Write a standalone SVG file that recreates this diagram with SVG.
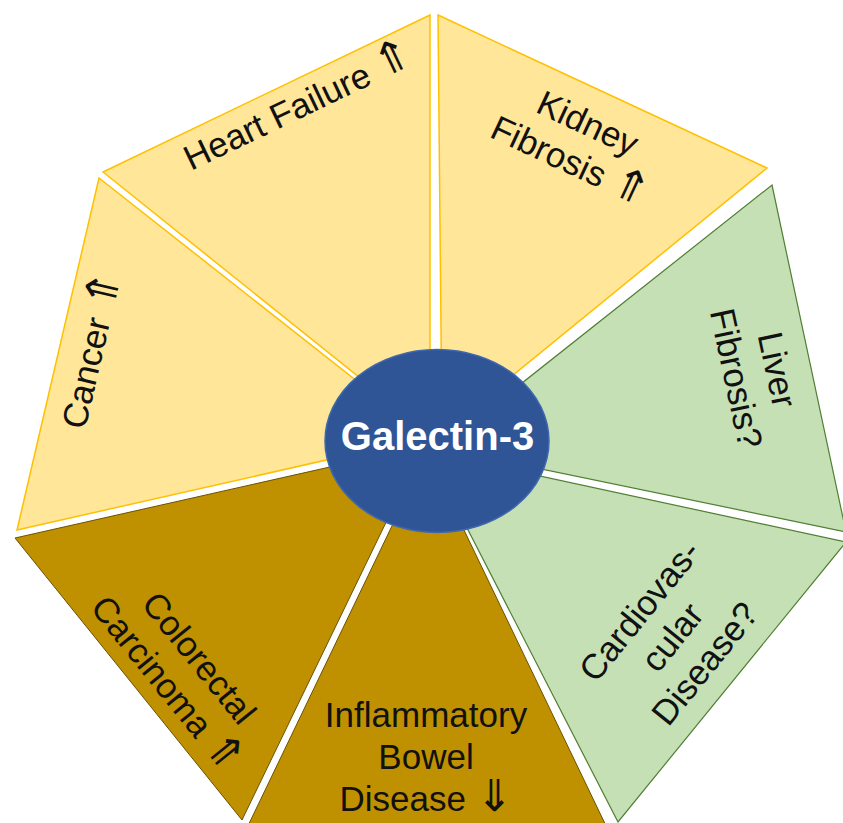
<svg xmlns="http://www.w3.org/2000/svg" width="843" height="823" viewBox="0 0 843 823">
  <style>
    .lt { fill: #FFE699; stroke: #FFC000; stroke-width: 1.5; stroke-linejoin: miter; }
    .gr { fill: #C5E0B4; stroke: #507E32; stroke-width: 1.2; }
    .dk { fill: #BF9000; stroke: #6B5200; stroke-width: 1; }
    .lbl { font-family: "Liberation Sans", Arial, "DejaVu Sans", sans-serif; font-size: 35px; fill: #111; text-anchor: middle; }
    .ar { font-family: "DejaVu Sans", sans-serif; font-size: 44px; font-weight: 200; }
    .hub { font-family: "Liberation Sans", Arial, sans-serif; font-size: 40px; font-weight: bold; fill: #FFFFFF; text-anchor: middle; }
  </style>
  <rect width="843" height="823" fill="#FFFFFF"/>

  <g id="heart-failure">
    <polygon class="lt" points="103,172 430,15 430,434"/>
    <text class="lbl" transform="translate(298,106) rotate(-25.6)" y="12.3">Heart Failure <tspan class="ar">⇑</tspan></text>
  </g>
  <g id="kidney-fibrosis">
    <polygon class="lt" points="438,15 767,168 442,433"/>
    <text class="lbl" transform="translate(579,142) rotate(25)"><tspan x="0" y="-8.7">Kidney</tspan><tspan x="0" y="33.3">Fibrosis <tspan class="ar">⇑</tspan></tspan></text>
  </g>
  <g id="liver-fibrosis">
    <polygon class="gr" points="772,185 846,532 440,448"/>
    <text class="lbl" transform="translate(757,374) rotate(78)"><tspan x="0" y="-8.7">Liver</tspan><tspan x="0" y="33.3">Fibrosis?</tspan></text>
  </g>
  <g id="cardiovascular-disease">
    <polygon class="gr" points="846,542 618,822 428,452"/>
    <text class="lbl" transform="translate(672,637) rotate(-51)"><tspan x="0" y="-29.7">Cardiovas-</tspan><tspan x="0" y="12.3">cular</tspan><tspan x="0" y="54.3">Disease?</tspan></text>
  </g>
  <g id="inflammatory-bowel-disease">
    <polygon class="dk" points="609,832 245,832 427,453"/>
    <text class="lbl"><tspan x="426" y="727">Inflammatory</tspan><tspan x="426" y="769">Bowel</tspan><tspan x="426" y="811">Disease <tspan class="ar">⇓</tspan></tspan></text>
  </g>
  <g id="colorectal-carcinoma">
    <polygon class="dk" points="15,538 242,820 423,446"/>
    <text class="lbl" transform="translate(183,671) rotate(51)"><tspan x="0" y="-8.7">Colorectal</tspan><tspan x="0" y="33.3">Carcinoma <tspan class="ar">⇑</tspan></tspan></text>
  </g>
  <g id="cancer">
    <polygon class="lt" points="99,178 17,530 428,437"/>
    <text class="lbl" transform="translate(91,350) rotate(-77)" y="12.3">Cancer <tspan class="ar">⇑</tspan></text>
  </g>

  <g id="connectors"></g>

  <g id="galectin-3">
    <ellipse cx="437" cy="441" rx="112" ry="91.5" fill="#2F5597" stroke="#3F68AE" stroke-width="1.5"/>
    <text class="hub" x="437.5" y="450">Galectin-3</text>
  </g>
</svg>
